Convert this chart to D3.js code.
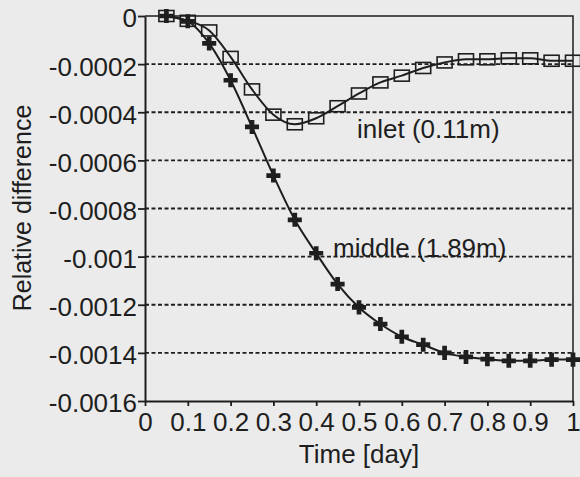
<!DOCTYPE html>
<meta charset="utf-8">
<script src="https://d3js.org/d3.v7.min.js"></script>
<style>
  body { margin: 0; background: #ebebeb; }
  text { font-family: "Liberation Sans", Arial, Helvetica, sans-serif; fill: #1e1e1e; }
</style>
<div id="chart"></div>
<script>
// time axis (day) shared by both series
var days = [0.05, 0.10, 0.15, 0.20, 0.25, 0.30, 0.35, 0.40, 0.45, 0.50,
            0.55, 0.60, 0.65, 0.70, 0.75, 0.80, 0.85, 0.90, 0.95, 1.00]
// inlet (0.11m), open squares
var inlet = [0, -0.00002, -0.00006, -0.00017, -0.000305, -0.00041, -0.00045, -0.000425, -0.000375, -0.000322,
             -0.000276, -0.000248, -0.000216, -0.000193, -0.00018, -0.00018, -0.000176, -0.000176, -0.000186, -0.000186]
// middle (1.89m), plus markers
var middle = [0, -0.000022, -0.000114, -0.000267, -0.000461, -0.000663, -0.000847, -0.000986, -0.001114, -0.001211,
              -0.00128, -0.001333, -0.001366, -0.0014, -0.001417, -0.001426, -0.001433, -0.001433, -0.001428, -0.001428]
var xTicks = [0, 0.1, 0.2, 0.3, 0.4, 0.5, 0.6, 0.7, 0.8, 0.9, 1]
var xTickLabels = ["0", "0.1", "0.2", "0.3", "0.4", "0.5", "0.6", "0.7", "0.8", "0.9", "1"]
var yTicks = [0, -0.0002, -0.0004, -0.0006, -0.0008, -0.001, -0.0012, -0.0014, -0.0016]
var yTickLabels = ["0", "-0.0002", "-0.0004", "-0.0006", "-0.0008", "-0.001", "-0.0012", "-0.0014", "-0.0016"]

var width = 580, height = 477
var mLeft = 145, mRight = 573, mTop = 16, mBottom = 401

var svg = d3.select("#chart").append("svg")
    .attr("width", width)
    .attr("height", height)

svg.append("rect").attr("width", width).attr("height", height).attr("fill", "#ebebeb")

var x = d3.scaleLinear().domain([0, 1]).range([mLeft, mRight])
var y = d3.scaleLinear().domain([0, -0.0016]).range([mTop, mBottom])

// dashed grid lines (not at 0 or bottom)
svg.append("g").selectAll("line")
  .data(yTicks.slice(1, -1))
  .enter().append("line")
    .attr("x1", mLeft).attr("x2", mRight)
    .attr("y1", function(d){ return y(d) }).attr("y2", function(d){ return y(d) })
    .style("stroke", "#1e1e1e")
    .style("stroke-width", 1.8)
    .style("stroke-dasharray", "4,2.5")

// frame: top + right
svg.append("path")
  .attr("d", "M" + mLeft + "," + mTop + "H" + mRight + "V" + mBottom)
  .style("fill", "none").style("stroke", "#1e1e1e").style("stroke-width", 1.5)

// axes
var xAxis = d3.axisBottom(x).tickValues(xTicks).tickSize(5).tickSizeOuter(0)
  .tickFormat(function(d, i){ return xTickLabels[i] })
var gx = svg.append("g").attr("transform", "translate(0," + mBottom + ")").call(xAxis)
gx.select(".domain").attr("stroke", "#1e1e1e").attr("stroke-width", 2)
gx.selectAll(".tick line").attr("stroke", "#1e1e1e").attr("stroke-width", 1.8)
gx.selectAll(".tick text").attr("y", 12).attr("dy", "0.71em")
  .style("font-size", "26px")
gx.attr("font-size", null).attr("font-family", null)

var yAxis = d3.axisLeft(y).tickValues(yTicks).tickSize(7).tickSizeOuter(0)
  .tickFormat(function(d, i){ return yTickLabels[i] })
var gy = svg.append("g").attr("transform", "translate(" + mLeft + ",0)").call(yAxis)
gy.select(".domain").attr("stroke", "#1e1e1e").attr("stroke-width", 2)
gy.selectAll(".tick line").attr("stroke", "#1e1e1e").attr("stroke-width", 1.8)
gy.selectAll(".tick text").attr("x", -8).attr("dy", "0.42em")
  .style("font-size", "26px")
gy.attr("font-size", null).attr("font-family", null)

// axis titles
svg.append("text")
  .attr("x", (mLeft + mRight) / 2).attr("y", 463)
  .attr("text-anchor", "middle")
  .style("font-size", "26px")
  .text("Time [day]")

svg.append("text")
  .attr("transform", "translate(31,208) rotate(-90)")
  .attr("text-anchor", "middle")
  .style("font-size", "25px")
  .text("Relative difference")

// curves
var line = d3.line()
  .x(function(d){ return x(d[0]) })
  .y(function(d){ return y(d[1]) })
  .curve(d3.curveMonotoneX)

var inletPts = days.map(function(d, i){ return [d, inlet[i]] })
var middlePts = days.map(function(d, i){ return [d, middle[i]] })

svg.append("path").datum(middlePts)
  .attr("d", line)
  .style("fill", "none").style("stroke", "#1e1e1e").style("stroke-width", 2)
svg.append("path").datum(inletPts)
  .attr("d", line)
  .style("fill", "none").style("stroke", "#1e1e1e").style("stroke-width", 2)

// markers
svg.append("g").selectAll("path")
  .data(middlePts)
  .enter().append("path")
    .attr("transform", function(d){ return "translate(" + x(d[0]) + "," + y(d[1]) + ")" })
    .attr("d", d3.symbol().type(d3.symbolCross).size(110))
    .style("fill", "#1e1e1e")

svg.append("g").selectAll("rect")
  .data(inletPts)
  .enter().append("rect")
    .attr("x", function(d){ return x(d[0]) - 7.5 })
    .attr("y", function(d){ return y(d[1]) - 5.5 })
    .attr("width", 15).attr("height", 11)
    .style("fill", "none").style("stroke", "#1e1e1e").style("stroke-width", 1.6)

// series labels
svg.append("text").attr("x", 357).attr("y", 138)
  .style("font-size", "26px").text("inlet (0.11m)")
svg.append("text").attr("x", 333).attr("y", 257)
  .style("font-size", "26px").text("middle (1.89m)")
</script>
